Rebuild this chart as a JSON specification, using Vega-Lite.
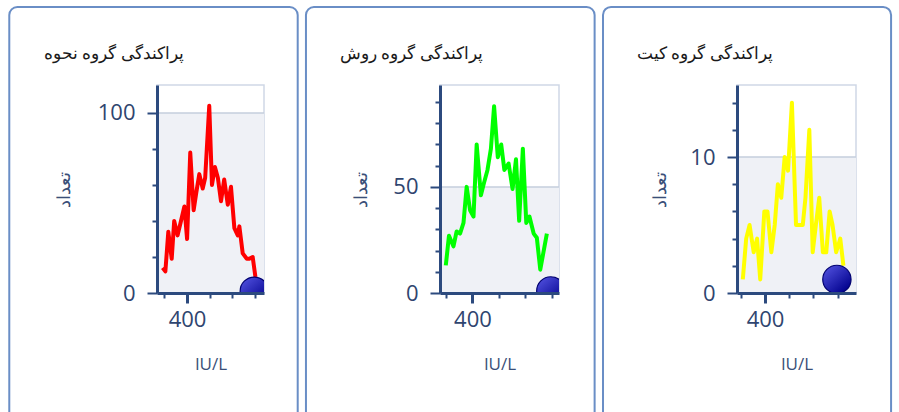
{
  "$schema": "https://vega.github.io/schema/vega-lite/v6.json",
  "background": "white",
  "padding": {"left": 7, "top": 5, "right": 0, "bottom": 0},
  "spacing": 4,
  "config": {
    "font": "Open Sans",
    "view": {"stroke": "#cfd8e6", "strokeWidth": 1.5},
    "axis": {"labelFont": "Open Sans", "titleFont": "Open Sans", "labelFlush": false, "labelOverlap": false, "grid": false}
  },
  "datasets": {
    "p1": [
      {"x": 292, "y": 14}, {"x": 304, "y": 12}, {"x": 317, "y": 34}, {"x": 332, "y": 19}, {"x": 343, "y": 40},
      {"x": 358, "y": 32}, {"x": 373, "y": 40}, {"x": 388, "y": 48}, {"x": 400, "y": 30}, {"x": 414, "y": 78},
      {"x": 429, "y": 46}, {"x": 441, "y": 56}, {"x": 454, "y": 66}, {"x": 469, "y": 58}, {"x": 480, "y": 64},
      {"x": 498, "y": 104}, {"x": 510, "y": 60}, {"x": 523, "y": 70}, {"x": 536, "y": 64}, {"x": 550, "y": 51},
      {"x": 564, "y": 63}, {"x": 580, "y": 49}, {"x": 594, "y": 59}, {"x": 609, "y": 36}, {"x": 624, "y": 32},
      {"x": 631, "y": 37}, {"x": 646, "y": 22}, {"x": 664, "y": 19}, {"x": 675, "y": 19}, {"x": 690, "y": 20},
      {"x": 702, "y": 9}, {"x": 712, "y": 3}
    ],
    "p2": [
      {"x": 299, "y": 13}, {"x": 311, "y": 27}, {"x": 328, "y": 22}, {"x": 340, "y": 29}, {"x": 353, "y": 28},
      {"x": 366, "y": 33}, {"x": 378, "y": 50}, {"x": 391, "y": 39}, {"x": 404, "y": 36}, {"x": 416, "y": 70},
      {"x": 432, "y": 46}, {"x": 444, "y": 52}, {"x": 457, "y": 58}, {"x": 470, "y": 68}, {"x": 482, "y": 88},
      {"x": 496, "y": 64}, {"x": 509, "y": 70}, {"x": 521, "y": 58}, {"x": 537, "y": 61}, {"x": 552, "y": 49},
      {"x": 565, "y": 63}, {"x": 577, "y": 34}, {"x": 591, "y": 68}, {"x": 604, "y": 33}, {"x": 616, "y": 36},
      {"x": 632, "y": 28}, {"x": 644, "y": 26}, {"x": 657, "y": 11}, {"x": 682, "y": 28}
    ],
    "p3": [
      {"x": 308, "y": 1}, {"x": 322, "y": 4}, {"x": 336, "y": 5}, {"x": 353, "y": 3}, {"x": 367, "y": 4},
      {"x": 380, "y": 1}, {"x": 397, "y": 6}, {"x": 410, "y": 6}, {"x": 426, "y": 3}, {"x": 440, "y": 5},
      {"x": 453, "y": 8}, {"x": 467, "y": 7}, {"x": 481, "y": 10}, {"x": 495, "y": 9}, {"x": 511, "y": 14},
      {"x": 528, "y": 5}, {"x": 542, "y": 5}, {"x": 556, "y": 5}, {"x": 567, "y": 7}, {"x": 583, "y": 12},
      {"x": 597, "y": 3}, {"x": 610, "y": 5}, {"x": 624, "y": 7}, {"x": 639, "y": 3}, {"x": 653, "y": 3},
      {"x": 667, "y": 6}, {"x": 679, "y": 5}, {"x": 694, "y": 3}, {"x": 711, "y": 4}, {"x": 724, "y": 2}
    ],
    "marker": [{"x": 697, "y": 1}],
    "frame": [{}]
  },
  "hconcat": [
    {
      "width": 107, "height": 208,
      "title": {"text": "پراکندگی گروه نحوه", "anchor": "start", "frame": "group", "dx": -113, "offset": -65, "baseline": "middle", "fontSize": 17, "fontWeight": "normal", "color": "#1a1a1a"},
      "resolve": {"axis": {"x": "independent", "y": "independent"}},
      "layer": [
        {
          "data": {"name": "frame"},
          "mark": {"type": "rect", "clip": false, "cornerRadius": 8, "fill": "transparent", "stroke": "#6a8ec6", "strokeWidth": 2},
          "encoding": {
            "x": {"datum": -386, "type": "quantitative", "scale": {"domain": [267, 740], "nice": false, "zero": false}, "axis": null},
            "x2": {"datum": 889},
            "y": {"datum": 158.8, "type": "quantitative", "scale": {"domain": [0, 115.5], "nice": false, "zero": false}, "axis": null},
            "y2": {"datum": -80}
          }
        },
        {
          "data": {"name": "frame"},
          "mark": {"type": "rect", "fill": "#eff1f6"},
          "encoding": {
            "x": {"datum": 267, "type": "quantitative", "scale": {"domain": [267, 740], "nice": false, "zero": false}, "axis": null},
            "x2": {"datum": 740},
            "y": {"datum": 0, "type": "quantitative", "scale": {"domain": [0, 115.5], "nice": false, "zero": false}, "axis": null},
            "y2": {"datum": 100}
          }
        },
        {
          "data": {"name": "frame"},
          "mark": {"type": "rule", "color": "#c5cedd", "strokeWidth": 1.5},
          "encoding": {
            "x": {"datum": 267, "type": "quantitative", "scale": {"domain": [267, 740], "nice": false, "zero": false}, "axis": null},
            "x2": {"datum": 740},
            "y": {"datum": 100, "type": "quantitative", "scale": {"domain": [0, 115.5], "nice": false, "zero": false}, "axis": null}
          }
        },
        {
          "data": {"name": "p1"},
          "mark": {"type": "line", "color": "#ff0000", "strokeWidth": 4, "strokeJoin": "round", "clip": true},
          "encoding": {
            "x": {"field": "x", "type": "quantitative", "scale": {"domain": [267, 740], "nice": false, "zero": false},
              "axis": {"orient": "bottom", "values": [400], "tickSize": 10, "tickWidth": 3, "tickColor": "#2c4a7e", "domainColor": "#2c4a7e", "domainWidth": 3, "labelFontSize": 22, "labelColor": "#2f456f", "labelPadding": 6, "title": "IU/L", "titleY": 71, "titleBaseline": "middle", "titleFontSize": 17, "titleFontWeight": "normal", "titleColor": "#3a4f78", "zindex": 1}},
            "y": {"field": "y", "type": "quantitative", "scale": {"domain": [0, 115.5], "nice": false, "zero": false},
              "axis": {"orient": "left", "values": [0, 100], "tickSize": 10, "tickWidth": 2, "tickColor": "#2c4a7e", "domainColor": "#2c4a7e", "domainWidth": 3, "labelFontSize": 22, "labelColor": "#2f456f", "labelPadding": 12, "title": "تعداد", "titleX": -93, "titleY": 104, "titleBaseline": "middle", "titleFontSize": 18, "titleFontWeight": "normal", "titleColor": "#3a4f78", "zindex": 1}}
          }
        },
        {
          "data": {"name": "marker"},
          "mark": {"type": "point", "shape": "circle", "filled": true, "size": 800, "clip": true, "opacity": 1, "stroke": "#000070", "strokeWidth": 1.2,
            "fill": {"gradient": "linear", "x1": 0.15, "y1": 0.1, "x2": 0.85, "y2": 0.9, "stops": [{"offset": 0, "color": "#4b4bd8"}, {"offset": 1, "color": "#00008c"}]}},
          "encoding": {
            "x": {"field": "x", "type": "quantitative", "scale": {"domain": [267, 740], "nice": false, "zero": false},
              "axis": {"orient": "bottom", "values": [300, 500, 600, 700], "tickSize": 5, "tickWidth": 2, "tickColor": "#2c4a7e", "labels": false, "domain": false, "title": null}},
            "y": {"field": "y", "type": "quantitative", "scale": {"domain": [0, 115.5], "nice": false, "zero": false},
              "axis": {"orient": "left", "values": [20, 40, 60, 80], "tickSize": 5, "tickWidth": 2, "tickColor": "#2c4a7e", "labels": false, "domain": false, "title": null}}
          }
        }
      ]
    },
    {
      "width": 119, "height": 208,
      "title": {"text": "پراکندگی گروه روش", "anchor": "start", "frame": "group", "dx": -100, "offset": -65, "baseline": "middle", "fontSize": 17, "fontWeight": "normal", "color": "#1a1a1a"},
      "resolve": {"axis": {"x": "independent", "y": "independent"}},
      "layer": [
        {
          "data": {"name": "frame"},
          "mark": {"type": "rect", "clip": false, "cornerRadius": 8, "fill": "transparent", "stroke": "#6a8ec6", "strokeWidth": 2},
          "encoding": {
            "x": {"datum": -231, "type": "quantitative", "scale": {"domain": [277, 728], "nice": false, "zero": false}, "axis": null},
            "x2": {"datum": 863},
            "y": {"datum": 134.75, "type": "quantitative", "scale": {"domain": [0, 98], "nice": false, "zero": false}, "axis": null},
            "y2": {"datum": -67.85}
          }
        },
        {
          "data": {"name": "frame"},
          "mark": {"type": "rect", "fill": "#eff1f6"},
          "encoding": {
            "x": {"datum": 277, "type": "quantitative", "scale": {"domain": [277, 728], "nice": false, "zero": false}, "axis": null},
            "x2": {"datum": 728},
            "y": {"datum": 0, "type": "quantitative", "scale": {"domain": [0, 98], "nice": false, "zero": false}, "axis": null},
            "y2": {"datum": 50}
          }
        },
        {
          "data": {"name": "frame"},
          "mark": {"type": "rule", "color": "#c5cedd", "strokeWidth": 1.5},
          "encoding": {
            "x": {"datum": 277, "type": "quantitative", "scale": {"domain": [277, 728], "nice": false, "zero": false}, "axis": null},
            "x2": {"datum": 728},
            "y": {"datum": 50, "type": "quantitative", "scale": {"domain": [0, 98], "nice": false, "zero": false}, "axis": null}
          }
        },
        {
          "data": {"name": "p2"},
          "mark": {"type": "line", "color": "#00ff00", "strokeWidth": 4, "strokeJoin": "round", "clip": true},
          "encoding": {
            "x": {"field": "x", "type": "quantitative", "scale": {"domain": [277, 728], "nice": false, "zero": false},
              "axis": {"orient": "bottom", "values": [400], "tickSize": 10, "tickWidth": 3, "tickColor": "#2c4a7e", "domainColor": "#2c4a7e", "domainWidth": 3, "labelFontSize": 22, "labelColor": "#2f456f", "labelPadding": 6, "title": "IU/L", "titleY": 71, "titleBaseline": "middle", "titleFontSize": 17, "titleFontWeight": "normal", "titleColor": "#3a4f78", "zindex": 1}},
            "y": {"field": "y", "type": "quantitative", "scale": {"domain": [0, 98], "nice": false, "zero": false},
              "axis": {"orient": "left", "values": [0, 50], "tickSize": 10, "tickWidth": 2, "tickColor": "#2c4a7e", "domainColor": "#2c4a7e", "domainWidth": 3, "labelFontSize": 22, "labelColor": "#2f456f", "labelPadding": 12, "title": "تعداد", "titleX": -78.5, "titleY": 104, "titleBaseline": "middle", "titleFontSize": 18, "titleFontWeight": "normal", "titleColor": "#3a4f78", "zindex": 1}}
          }
        },
        {
          "data": {"name": "marker"},
          "mark": {"type": "point", "shape": "circle", "filled": true, "size": 800, "clip": true, "opacity": 1, "stroke": "#000070", "strokeWidth": 1.2,
            "fill": {"gradient": "linear", "x1": 0.15, "y1": 0.1, "x2": 0.85, "y2": 0.9, "stops": [{"offset": 0, "color": "#4b4bd8"}, {"offset": 1, "color": "#00008c"}]}},
          "encoding": {
            "x": {"field": "x", "type": "quantitative", "scale": {"domain": [277, 728], "nice": false, "zero": false},
              "axis": {"orient": "bottom", "values": [300, 500, 600, 700], "tickSize": 5, "tickWidth": 2, "tickColor": "#2c4a7e", "labels": false, "domain": false, "title": null}},
            "y": {"field": "y", "type": "quantitative", "scale": {"domain": [0, 98], "nice": false, "zero": false},
              "axis": {"orient": "left", "values": [10, 20, 30, 40, 60, 70, 80, 90], "tickSize": 5, "tickWidth": 2, "tickColor": "#2c4a7e", "labels": false, "domain": false, "title": null}}
          }
        }
      ]
    },
    {
      "width": 119, "height": 208,
      "title": {"text": "پراکندگی گروه کیت", "anchor": "start", "frame": "group", "dx": -100, "offset": -65, "baseline": "middle", "fontSize": 17, "fontWeight": "normal", "color": "#1a1a1a"},
      "resolve": {"axis": {"x": "independent", "y": "independent"}},
      "layer": [
        {
          "data": {"name": "frame"},
          "mark": {"type": "rect", "clip": false, "cornerRadius": 8, "fill": "transparent", "stroke": "#6a8ec6", "strokeWidth": 2},
          "encoding": {
            "x": {"datum": -270, "type": "quantitative", "scale": {"domain": [284, 776], "nice": false, "zero": false}, "axis": null},
            "x2": {"datum": 921},
            "y": {"datum": 21.04, "type": "quantitative", "scale": {"domain": [0, 15.3], "nice": false, "zero": false}, "axis": null},
            "y2": {"datum": -10.59}
          }
        },
        {
          "data": {"name": "frame"},
          "mark": {"type": "rect", "fill": "#eff1f6"},
          "encoding": {
            "x": {"datum": 284, "type": "quantitative", "scale": {"domain": [284, 776], "nice": false, "zero": false}, "axis": null},
            "x2": {"datum": 776},
            "y": {"datum": 0, "type": "quantitative", "scale": {"domain": [0, 15.3], "nice": false, "zero": false}, "axis": null},
            "y2": {"datum": 10}
          }
        },
        {
          "data": {"name": "frame"},
          "mark": {"type": "rule", "color": "#c5cedd", "strokeWidth": 1.5},
          "encoding": {
            "x": {"datum": 284, "type": "quantitative", "scale": {"domain": [284, 776], "nice": false, "zero": false}, "axis": null},
            "x2": {"datum": 776},
            "y": {"datum": 10, "type": "quantitative", "scale": {"domain": [0, 15.3], "nice": false, "zero": false}, "axis": null}
          }
        },
        {
          "data": {"name": "p3"},
          "mark": {"type": "line", "color": "#ffff00", "strokeWidth": 4, "strokeJoin": "round", "clip": true},
          "encoding": {
            "x": {"field": "x", "type": "quantitative", "scale": {"domain": [284, 776], "nice": false, "zero": false},
              "axis": {"orient": "bottom", "values": [400], "tickSize": 10, "tickWidth": 3, "tickColor": "#2c4a7e", "domainColor": "#2c4a7e", "domainWidth": 3, "labelFontSize": 22, "labelColor": "#2f456f", "labelPadding": 6, "title": "IU/L", "titleY": 71, "titleBaseline": "middle", "titleFontSize": 17, "titleFontWeight": "normal", "titleColor": "#3a4f78", "zindex": 1}},
            "y": {"field": "y", "type": "quantitative", "scale": {"domain": [0, 15.3], "nice": false, "zero": false},
              "axis": {"orient": "left", "values": [0, 10], "tickSize": 10, "tickWidth": 2, "tickColor": "#2c4a7e", "domainColor": "#2c4a7e", "domainWidth": 3, "labelFontSize": 22, "labelColor": "#2f456f", "labelPadding": 12, "title": "تعداد", "titleX": -77, "titleY": 104, "titleBaseline": "middle", "titleFontSize": 18, "titleFontWeight": "normal", "titleColor": "#3a4f78", "zindex": 1}}
          }
        },
        {
          "data": {"name": "marker"},
          "mark": {"type": "point", "shape": "circle", "filled": true, "size": 800, "clip": true, "opacity": 1, "stroke": "#000070", "strokeWidth": 1.2,
            "fill": {"gradient": "linear", "x1": 0.15, "y1": 0.1, "x2": 0.85, "y2": 0.9, "stops": [{"offset": 0, "color": "#4b4bd8"}, {"offset": 1, "color": "#00008c"}]}},
          "encoding": {
            "x": {"field": "x", "type": "quantitative", "scale": {"domain": [284, 776], "nice": false, "zero": false},
              "axis": {"orient": "bottom", "values": [300, 500, 600, 700], "tickSize": 5, "tickWidth": 2, "tickColor": "#2c4a7e", "labels": false, "domain": false, "title": null}},
            "y": {"field": "y", "type": "quantitative", "scale": {"domain": [0, 15.3], "nice": false, "zero": false},
              "axis": {"orient": "left", "values": [2, 4, 6, 8, 12, 14], "tickSize": 5, "tickWidth": 2, "tickColor": "#2c4a7e", "labels": false, "domain": false, "title": null}}
          }
        }
      ]
    }
  ]
}
